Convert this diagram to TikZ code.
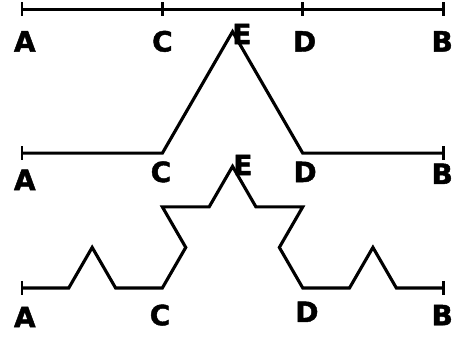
\documentclass[tikz,border=0pt]{standalone}
\usepackage{fontspec}
\setsansfont{DejaVu Sans}[BoldFeatures={FakeBold=1.6}]
\usetikzlibrary{calc}
\tikzset{curve/.style={line width=1.9pt,line join=miter},
  endbar/.style={line width=1.7pt},
  lbl/.style={font=\sffamily\bfseries\fontsize{17}{17}\selectfont,inner sep=0pt}}

\begin{document}
\begin{tikzpicture}
\useasboundingbox (-0.47,-1.047) rectangle (9.19,6.154);
\def\h{0.866}
% row 1: AB cut in thirds
\coordinate (A1) at (0,5.96); \coordinate (C1) at (3,5.96);
\coordinate (D1) at (6,5.96); \coordinate (B1) at (9,5.96);
\draw[curve] (A1)--(C1)--(D1)--(B1);
\foreach \p in {A1,C1,D1,B1}{\draw[endbar] ($(\p)+(0,0.15)$)--($(\p)-(0,0.15)$);}
\node[lbl] (la1) at ($(A1)+(0.06,-0.69)$){A};
\node[lbl] (lc1) at ($(C1)+(0.0,-0.69)$){C};
\node[lbl] (ld1) at ($(D1)+(0.04,-0.69)$){D};
\node[lbl] (lb1) at ($(B1)+(-0.02,-0.69)$){B};
% row 2: middle third replaced by a peak
\coordinate (A2) at (0,2.88); \coordinate (C2) at (3,2.88);
\coordinate (E2) at (4.5,{2.88+3*\h}); \coordinate (D2) at (6,2.88);
\coordinate (B2) at (9,2.88);
\draw[curve] (A2)--(C2)--(E2)--(D2)--(B2);
\foreach \p in {A2,B2}{\draw[endbar] ($(\p)+(0,0.15)$)--($(\p)-(0,0.15)$);}
\node[lbl] (la2) at ($(A2)+(0.06,-0.57)$){A};
\node[lbl] (lc2) at ($(C2)+(-0.03,-0.40)$){C};
\node[lbl] (le2) at ($(E2)+(0.2,-0.05)$){E};
\node[lbl] (ld2) at ($(D2)+(0.05,-0.40)$){D};
\node[lbl] (lb2) at ($(B2)+(-0.02,-0.44)$){B};
% row 3: same step again on every segment
\coordinate (A3) at (0,0); \coordinate (C3) at (3,0);
\coordinate (E3) at (4.5,3*\h); \coordinate (D3) at (6,0);
\coordinate (B3) at (9,0);
\draw[curve] (A3)--(1,0)--(1.5,\h)--(2,0)--(C3)--(3.5,\h)--(3,2*\h)--(4,2*\h)--(E3)
  --(5,2*\h)--(6,2*\h)--(5.5,\h)--(D3)--(7,0)--(7.5,\h)--(8,0)--(B3);
\foreach \p in {A3,B3}{\draw[endbar] ($(\p)+(0,0.15)$)--($(\p)-(0,0.15)$);}
\node[lbl] (la3) at ($(A3)+(0.06,-0.62)$){A};
\node[lbl] (lc3) at ($(C3)+(-0.05,-0.58)$){C};
\node[lbl] (le3) at ($(E3)+(0.22,0.03)$){E};
\node[lbl] (ld3) at ($(D3)+(0.09,-0.51)$){D};
\node[lbl] (lb3) at ($(B3)+(-0.02,-0.58)$){B};
\end{tikzpicture}
\end{document}
